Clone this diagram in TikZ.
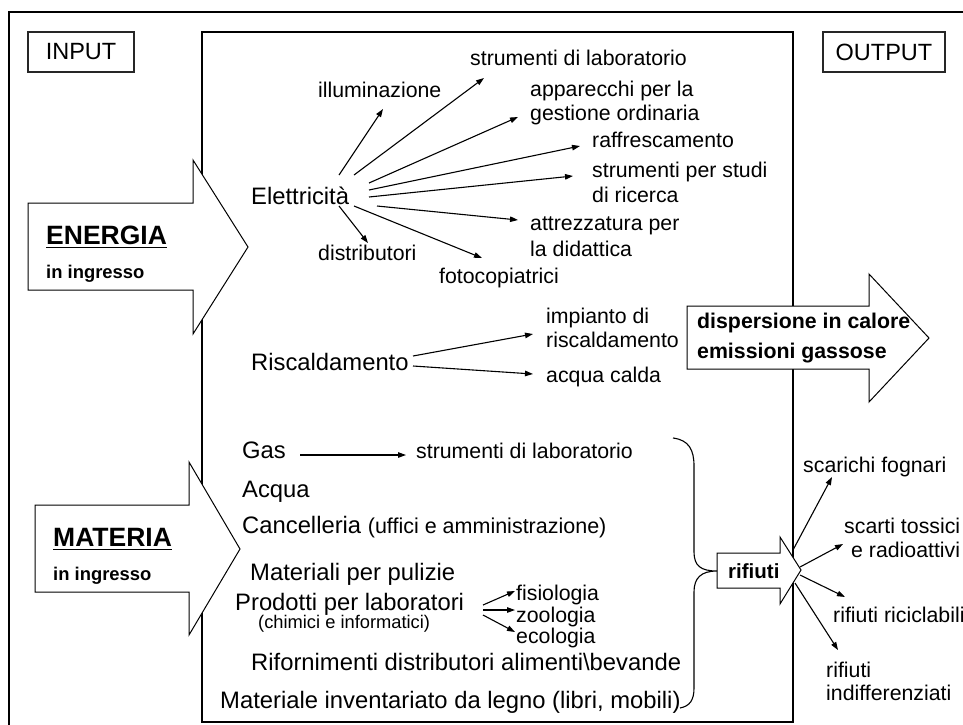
\documentclass[tikz,border=0pt]{standalone}
\usepackage{fontspec}
\setmainfont{Liberation Sans}
\usetikzlibrary{arrows.meta}
\begin{document}
\begin{tikzpicture}[x=1pt,y=-1pt,
  lbl/.style={anchor=base west, inner sep=0pt, font=\fontsize{21.3}{24}\selectfont},
  big/.style={anchor=base west, inner sep=0pt, font=\fontsize{23.8}{27}\selectfont},
  bold/.style={anchor=base west, inner sep=0pt, font=\fontsize{21.3}{24}\selectfont\bfseries},
  head/.style={anchor=base west, inner sep=0pt, font=\fontsize{26.5}{30}\selectfont\bfseries},
  sub/.style={anchor=base west, inner sep=0pt, font=\fontsize{18.4}{22}\selectfont\bfseries},
  uline/.style={line width=1.8pt},
  con/.style={-{Triangle[length=8pt,width=5.5pt]}, line width=1.1pt},
  blockarrow/.style={draw, fill=white, line width=1pt, line join=miter},
  frame/.style={draw, line width=2.5pt},
  tagbox/.style={draw=black!85, line width=1.3pt, inner sep=0pt, minimum height=40pt, font=\fontsize{23.5}{27}\selectfont},
  brace/.style={line width=1.1pt}]
\clip (0,0) rectangle (963,724);
\fill[white] (0,0) rectangle (963,724);
% frames
\draw[frame] (9,780) -- (9,12) -- (1000,12);
\draw[frame] (202,32) rectangle (793,722);
\node[tagbox, minimum width=106pt] (input) at (81,52) {INPUT};
\node[tagbox, minimum width=122pt] (output) at (884,52) {OUTPUT};
% block arrows
\draw[blockarrow] (28,203) -- (193,203) -- (193,160) -- (248,247) -- (193,334) -- (193,290) -- (28,290) -- cycle;
\node[head] (energia) at (46,244) {ENERGIA};
\draw[uline] ([yshift=-3.5pt]energia.base west) -- ([yshift=-3.5pt]energia.base east);
\node[sub] (eing) at (46,278) {in ingresso};
\draw[blockarrow] (35,505) -- (189,505) -- (189,462) -- (240,549) -- (189,635) -- (189,592) -- (35,592) -- cycle;
\node[head] (materia) at (53,546) {MATERIA};
\draw[uline] ([yshift=-3.5pt]materia.base west) -- ([yshift=-3.5pt]materia.base east);
\node[sub] (ming) at (53,580) {in ingresso};
\draw[blockarrow] (687,306) -- (869,306) -- (869,274) -- (929,338) -- (869,402) -- (869,369) -- (687,369) -- cycle;
\node[bold] (disp) at (697,328) {dispersione in calore};
\node[bold] (emis) at (697,358) {emissioni gassose};
\draw[blockarrow] (717,553) -- (780,553) -- (780,537) -- (801,570) -- (780,604) -- (780,588) -- (717,588) -- cycle;
\node[anchor=base west, inner sep=0pt, font=\fontsize{20.5}{24}\selectfont\bfseries] (rif) at (728,578) {rifiuti};
% brace
\draw[brace] (673,438) .. controls (689,440) and (694,450) .. (694,466) -- (694,552) .. controls (694,566) and (701,571) .. (717,571) .. controls (701,571) and (694,578) .. (694,592) -- (694,688) .. controls (694,700) and (690,706) .. (680,708);
% Elettricita
\node[big] (elet) at (251,204) {Elettricità};
\node[lbl] (illum) at (318,97) {illuminazione};
\node[lbl] (strlab) at (470,65) {strumenti di laboratorio};
\node[lbl] (app1) at (530,96) {apparecchi per la};
\node[lbl] (app2) at (530,120) {gestione ordinaria};
\node[lbl] (raff) at (592,147) {raffrescamento};
\node[lbl] (stud1) at (592,177) {strumenti per studi};
\node[lbl] (stud2) at (592,202) {di ricerca};
\node[lbl] (att1) at (530,230) {attrezzatura per};
\node[lbl] (att2) at (530,256) {la didattica};
\node[lbl] (foto) at (439,283) {fotocopiatrici};
\node[lbl] (distr) at (318,260) {distributori};
\coordinate (e1) at (339,175); \coordinate (t1) at (383,109);
\coordinate (e2) at (354,175); \coordinate (t2) at (484,78);
\coordinate (e3) at (369,183); \coordinate (t3) at (518,117);
\coordinate (e4) at (369,190); \coordinate (t4) at (580,146);
\coordinate (e5) at (369,197); \coordinate (t5) at (573,176);
\coordinate (e6) at (377,206); \coordinate (t6) at (518,220);
\coordinate (e7) at (354,206); \coordinate (t7) at (482,258);
\coordinate (e8) at (339,206); \coordinate (t8) at (368,243);
\foreach \i in {1,...,8} \draw[con] (e\i) -- (t\i);
% Riscaldamento
\node[big] (risc) at (251,370) {Riscaldamento};
\node[lbl] (imp1) at (546,323) {impianto di};
\node[lbl] (imp2) at (546,347) {riscaldamento};
\node[lbl] (acal) at (546,382) {acqua calda};
\coordinate (r1) at (413,356); \coordinate (rt1) at (533,334);
\coordinate (r2) at (413,366); \coordinate (rt2) at (533,374);
\draw[con] (r1) -- (rt1);
\draw[con] (r2) -- (rt2);
% Materia
\node[big] (gas) at (242,458) {Gas};
\node[lbl] (gaslab) at (416,458) {strumenti di laboratorio};
\coordinate (g1) at (300,455); \coordinate (gt1) at (406,455);
\draw[con] (g1) -- (gt1);
\node[big] (acqua) at (242,497) {Acqua};
\node[big] (canc) at (242,533) {Cancelleria {\fontsize{21.5}{24}\selectfont(uffici e amministrazione)}};
\node[big] (pul) at (250,580) {Materiali per pulizie};
\node[big] (prod) at (235,610) {Prodotti per laboratori};
\node[anchor=base west, inner sep=0pt, font=\fontsize{18.3}{21}\selectfont] (chim) at (258,628) {(chimici e informatici)};
\node[lbl] (fis) at (516,600) {fisiologia};
\node[lbl] (zoo) at (516,622) {zoologia};
\node[lbl] (eco) at (516,643) {ecologia};
\coordinate (p1) at (483,605); \coordinate (pt1) at (515,591);
\coordinate (p2) at (483,610); \coordinate (pt2) at (515,610);
\coordinate (p3) at (483,615); \coordinate (pt3) at (515,632);
\draw[con] (p1) -- (pt1);
\draw[con] (p2) -- (pt2);
\draw[con] (p3) -- (pt3);
\node[big] (rifor) at (251,670) {Rifornimenti distributori alimenti\textbackslash bevande};
\node[big] (inv) at (220,708) {Materiale inventariato da legno (libri, mobili)};
% outputs
\node[lbl] (fogn) at (803,472) {scarichi fognari};
\node[lbl] (tox1) at (844,533) {scarti tossici};
\node[lbl] (tox2) at (851,557) {e radioattivi};
\node[lbl] (ricic) at (833,622) {rifiuti riciclabili};
\node[lbl] (ind1) at (826,677) {rifiuti};
\node[lbl] (ind2) at (826,700) {indifferenziati};
\coordinate (o1) at (793,550); \coordinate (ot1) at (832,477);
\coordinate (o2) at (800,567); \coordinate (ot2) at (843,544);
\coordinate (o3) at (800,575); \coordinate (ot3) at (845,597);
\coordinate (o4) at (795,583); \coordinate (ot4) at (838,650);
\foreach \i in {1,...,4} \draw[con] (o\i) -- (ot\i);
\end{tikzpicture}
\end{document}
